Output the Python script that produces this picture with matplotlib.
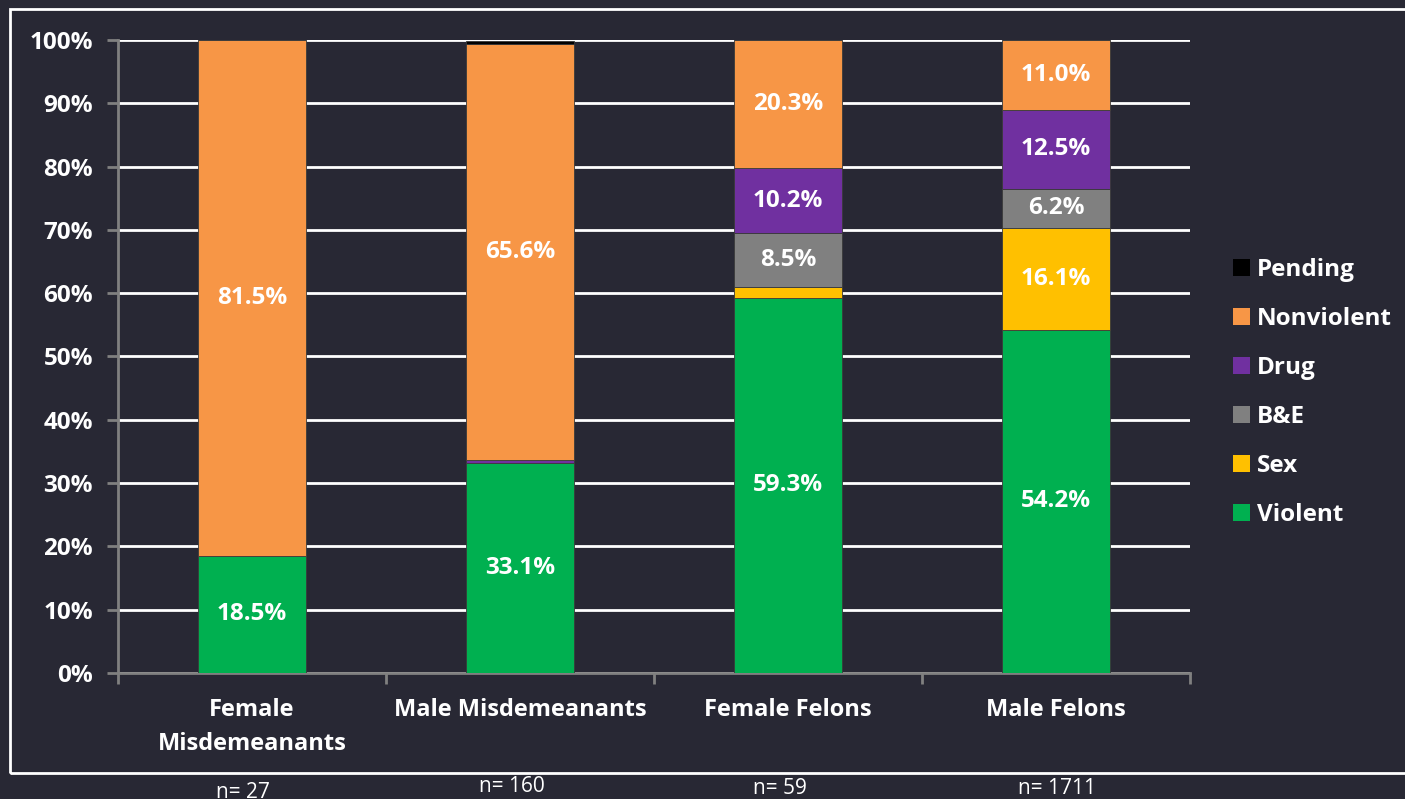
import numpy as np
import matplotlib.pyplot as plt
from matplotlib.patches import Patch, Rectangle

# Offense breakdown by group (percent of group)
groups = ['Female\nMisdemeanants', 'Male Misdemeanants', 'Female Felons', 'Male Felons']
n_sizes = ['n= 27', 'n= 160', 'n= 59', 'n= 1711']

violent = [18.5, 33.1, 59.3, 54.2]
sex = [0.0, 0.0, 1.7, 16.1]
b_and_e = [0.0, 0.0, 8.5, 6.2]
drug = [0.0, 0.6, 10.2, 12.5]
nonviolent = [81.5, 65.6, 20.3, 11.0]
pending = [0.0, 0.6, 0.0, 0.0]

series = [('Violent', violent, '#00B050'),
          ('Sex', sex, '#FFC000'),
          ('B&E', b_and_e, '#808080'),
          ('Drug', drug, '#7030A0'),
          ('Nonviolent', nonviolent, '#F79646'),
          ('Pending', pending, '#000000')]

bg = '#282834'
font = 'Open Sans'

fig = plt.figure(figsize=(14.05, 7.99), dpi=100, facecolor=bg)
ax = fig.add_axes([0.084, 0.1577, 0.763, 0.7923], facecolor=bg)

x = np.arange(len(groups))
bottom = np.zeros(len(groups))
for name, vals, color in series:
    vals = np.array(vals)
    ax.bar(x, vals, 0.4, bottom=bottom, color=color, zorder=3, label=name,
           edgecolor='#3a3a3a', linewidth=0.6)
    for xi, b, v in zip(x, bottom, vals):
        if v > 3:
            ax.text(xi, b + v / 2, f'{v:.1f}%', ha='center', va='center',
                    color='white', fontsize=17.5, fontweight='bold', family=font, zorder=4)
    bottom += vals

ax.set_ylim(0, 100)
ax.set_xlim(-0.5, 3.5)
ax.set_yticks(np.arange(0, 101, 10))
ax.set_yticklabels([f'{v}%' for v in range(0, 101, 10)], fontsize=17.5,
                   fontweight='bold', color='white', family=font)
ax.yaxis.grid(True, color='white', lw=2, zorder=0)
ax.set_axisbelow(True)

ax.set_xticks(np.arange(-0.5, 4, 1))
ax.set_xticklabels([])
ax.set_xticks(x, minor=True)
ax.set_xticklabels(groups, minor=True, fontsize=17, fontweight='bold',
                   color='white', family=font, linespacing=1.55)
ax.tick_params(axis='x', which='minor', length=0, pad=18)
ax.tick_params(axis='x', which='major', length=8, color='#808080', width=2)
ax.tick_params(axis='y', length=8, color='#808080', width=2, pad=10)

for s in ['top', 'right']:
    ax.spines[s].set_visible(False)
for s in ['left', 'bottom']:
    ax.spines[s].set_color('#808080')
    ax.spines[s].set_linewidth(2)

# legend, top to bottom: Pending ... Violent
handles = [Patch(facecolor=c, label=nm) for nm, _, c in series[::-1]]
fig.legend(handles=handles, loc='center left', bbox_to_anchor=(0.862, 0.509),
           frameon=False, prop={'family': font, 'weight': 'bold', 'size': 17.5},
           labelcolor='white', handlelength=0.7, handleheight=0.7,
           handletextpad=0.3, labelspacing=1.03)

# white frame around chart area
fig.patches.append(Rectangle((10 / 1405, 1 - 773 / 799), 1.02, (773 - 9) / 799,
                             transform=fig.transFigure, fill=False,
                             edgecolor='white', lw=2, clip_on=False))

n_x = [243, 512, 780, 1057]
n_y = [792, 787, 788, 788]
for xp, yp, t in zip(n_x, n_y, n_sizes):
    fig.text(xp / 1405, 1 - yp / 799, t, ha='center', va='center',
             color='white', fontsize=15, family=font)

fig.savefig('out.png', dpi=100, facecolor=bg)
